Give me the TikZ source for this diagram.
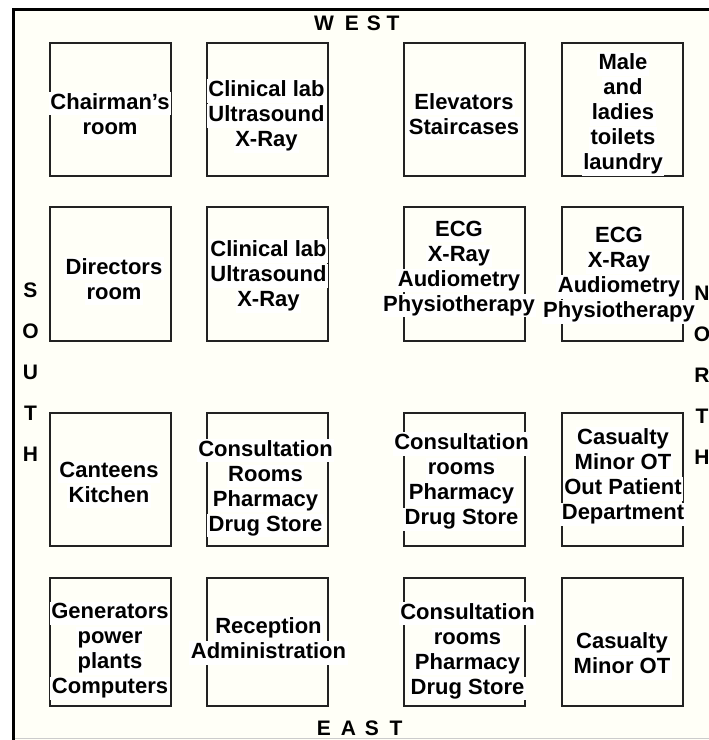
\documentclass[tikz,border=0pt]{standalone}
\usepackage{fontspec}
\setmainfont{Liberation Sans}

\definecolor{paper}{RGB}{255,255,247}
\definecolor{wall}{RGB}{34,34,34}
\newcommand{\wl}[1]{\colorbox{white}{\vphantom{Ay}#1}}
\setlength{\fboxsep}{1.5pt}

\tikzset{
  room/.style={draw=wall, line width=2.4pt, minimum width=121pt, inner sep=0pt},
  roomtext/.style={align=center, inner sep=0pt, font=\fontsize{22}{25}\selectfont\bfseries},
  side/.style={inner sep=0pt, font=\fontsize{21}{21}\selectfont\bfseries},
}

\begin{document}
\begin{tikzpicture}[x=1pt,y=-1pt]
\useasboundingbox (0,0) rectangle (709,740);
\fill[paper] (12,8) rectangle (709,740);
\draw[line width=3.5pt] (13.5,740) -- (13.5,9.5) -- (709,9.5);
\draw[black!20, line width=1pt] (15,738.5) -- (709,738.5);

% rooms
\node[room, minimum height=133pt] (chairman) at (110.5,109.5) {};
\node[room, minimum height=133pt] (labA) at (267.5,109.5) {};
\node[room, minimum height=133pt] (elevators) at (464.5,109.5) {};
\node[room, minimum height=133pt] (toilets) at (622.5,109.5) {};
\node[room, minimum height=134pt] (directors) at (110.5,274) {};
\node[room, minimum height=134pt] (labB) at (267.5,274) {};
\node[room, minimum height=134pt] (ecgA) at (464.5,274) {};
\node[room, minimum height=134pt] (ecgB) at (622.5,274) {};
\node[room, minimum height=133pt] (canteen) at (110.5,479.5) {};
\node[room, minimum height=133pt] (consultA) at (267.5,479.5) {};
\node[room, minimum height=133pt] (consultB) at (464.5,479.5) {};
\node[room, minimum height=133pt] (casualtyA) at (622.5,479.5) {};
\node[room, minimum height=128pt] (generators) at (110.5,642) {};
\node[room, minimum height=128pt] (reception) at (267.5,642) {};
\node[room, minimum height=128pt] (consultC) at (464.5,642) {};
\node[room, minimum height=128pt] (casualtyB) at (622.5,642) {};

% labels
\node[roomtext] (chairman-t) at (110,116) {\wl{Chairman's}\\\wl{room}};
\node[roomtext] (labA-t) at (266.5,116) {\wl{Clinical lab}\\\wl{Ultrasound}\\\wl{X-Ray}};
\node[roomtext] (elevators-t) at (464,116) {\wl{Elevators}\\\wl{Staircases}};
\node[roomtext] (toilets-t) at (623,114) {\wl{Male}\\\wl{and}\\\wl{ladies}\\\wl{toilets}\\\wl{laundry}};
\node[roomtext] (directors-t) at (114,281) {\wl{Directors}\\\wl{room}};
\node[roomtext] (labB-t) at (268.5,276) {\wl{Clinical lab}\\\wl{Ultrasound}\\\wl{X-Ray}};
\node[roomtext] (ecgA-t) at (459,268.5) {\wl{ECG}\\\wl{X-Ray}\\\wl{Audiometry}\\\wl{Physiotherapy}};
\node[roomtext] (ecgB-t) at (619,275) {\wl{ECG}\\\wl{X-Ray}\\\wl{Audiometry}\\\wl{Physiotherapy}};
\node[roomtext] (canteen-t) at (109,484.5) {\wl{Canteens}\\\wl{Kitchen}};
\node[roomtext] (consultA-t) at (265.5,488) {\wl{Consultation}\\\wl{Rooms}\\\wl{Pharmacy}\\\wl{Drug Store}};
\node[roomtext] (consultB-t) at (461.5,481.5) {\wl{Consultation}\\\wl{rooms}\\\wl{Pharmacy}\\\wl{Drug Store}};
\node[roomtext] (casualtyA-t) at (623,476.5) {\wl{Casualty}\\\wl{Minor OT}\\\wl{Out Patient}\\\wl{Department}};
\node[roomtext] (generators-t) at (110,651) {\wl{Generators}\\\wl{power}\\\wl{plants}\\\wl{Computers}};
\node[roomtext] (reception-t) at (268.5,640.5) {\wl{Reception}\\\wl{Administration}};
\node[roomtext] (consultC-t) at (467.5,651) {\wl{Consultation}\\\wl{rooms}\\\wl{Pharmacy}\\\wl{Drug Store}};
\node[roomtext] (casualtyB-t) at (622,655.5) {\wl{Casualty}\\\wl{Minor OT}};

% directions
\foreach \l/\x in {W/324,E/352,S/374,T/393}
  \node[side] (west-\l) at (\x,23) {\l};
\foreach \l/\x in {E/324,A/348.5,S/372,T/396}
  \node[side] (east-\l) at (\x,728) {\l};
\foreach \l [count=\i from 0] in {S,O,U,T,H}
  \node[side] (south-\l) at (30.5,290+41*\i) {\l};
\foreach \l [count=\i from 0] in {N,O,R,T,H}
  \node[side] (north-\l) at (702,293+41*\i) {\l};
\end{tikzpicture}
\end{document}
